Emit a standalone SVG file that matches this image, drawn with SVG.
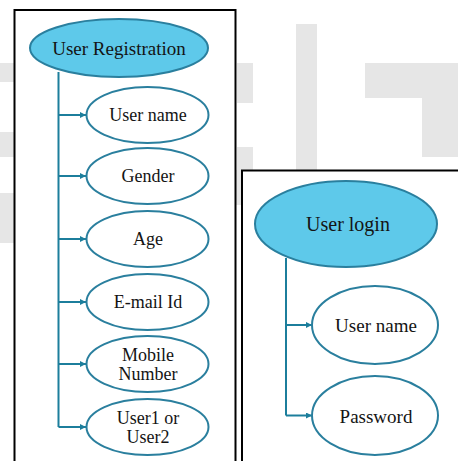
<svg xmlns="http://www.w3.org/2000/svg" width="458" height="461" viewBox="0 0 458 461">
  <defs>
    <style>
      .wm { fill: #e6e6e6; }
      .box { fill: #ffffff; stroke: #000000; stroke-width: 2; }
      .head { fill: #5ec9ea; stroke: #2a7f9e; stroke-width: 2; }
      .item { fill: #ffffff; stroke: #2a7f9e; stroke-width: 2; }
      .conn { fill: none; stroke: #1c7e9c; stroke-width: 2; }
      .lbl { font-family: 'Liberation Serif', 'DejaVu Serif', serif; fill: #141414; text-anchor: middle; }
      .t17 { font-size: 17px; }
      .t18 { font-size: 18px; }
      .t19 { font-size: 19px; }
      .t20 { font-size: 20px; }
    </style>
    <marker id="arr" viewBox="0 0 10 10" refX="10" refY="5" markerWidth="3" markerHeight="3" orient="auto" markerUnits="strokeWidth">
      <path d="M0,0 L10,5 L0,10 z" fill="#1c7e9c"/>
    </marker>
  </defs>

  <g id="watermark">
    <rect class="wm" x="0" y="63" width="14" height="19"/>
    <rect class="wm" x="0" y="132" width="14" height="25"/>
    <rect class="wm" x="0" y="193" width="14" height="50"/>
    <rect class="wm" x="237" y="63" width="16" height="40"/>
    <rect class="wm" x="237" y="147" width="16" height="23"/>
    <rect class="wm" x="236" y="170" width="5" height="35"/>
    <rect class="wm" x="296" y="24" width="21" height="146"/>
    <rect class="wm" x="365" y="63" width="93" height="35"/>
    <rect class="wm" x="422" y="63" width="36" height="94"/>
  </g>

  <g id="boxes">
    <rect class="box" x="14.5" y="10" width="221" height="470"/>
    <rect class="box" x="242" y="170.5" width="230" height="310"/>
  </g>

  <g id="connectors">
    <path class="conn" d="M58.5,72 V427"/>
    <path class="conn" d="M58.5,115 H86" marker-end="url(#arr)"/>
    <path class="conn" d="M58.5,176 H86" marker-end="url(#arr)"/>
    <path class="conn" d="M58.5,239 H86" marker-end="url(#arr)"/>
    <path class="conn" d="M58.5,302 H86" marker-end="url(#arr)"/>
    <path class="conn" d="M58.5,364 H86" marker-end="url(#arr)"/>
    <path class="conn" d="M58.5,427 H86" marker-end="url(#arr)"/>
    <path class="conn" d="M286,258 V415.5"/>
    <path class="conn" d="M286,325 H312" marker-end="url(#arr)"/>
    <path class="conn" d="M286,415.5 H312" marker-end="url(#arr)"/>
  </g>

  <g id="user-registration">
    <ellipse class="head" cx="119" cy="48" rx="89" ry="29"/>
    <text class="lbl t19" x="119" y="55">User Registration</text>
  </g>
  <g id="reg-username">
    <ellipse class="item" cx="147.5" cy="115" rx="61" ry="28"/>
    <text class="lbl t18" x="148" y="121">User name</text>
  </g>
  <g id="reg-gender">
    <ellipse class="item" cx="147.5" cy="176" rx="61" ry="28"/>
    <text class="lbl t18" x="148" y="182">Gender</text>
  </g>
  <g id="reg-age">
    <ellipse class="item" cx="147.5" cy="239" rx="61" ry="28"/>
    <text class="lbl t18" x="148" y="245">Age</text>
  </g>
  <g id="reg-email">
    <ellipse class="item" cx="147.5" cy="302" rx="61" ry="28"/>
    <text class="lbl t18" x="148" y="308">E-mail Id</text>
  </g>
  <g id="reg-mobile">
    <ellipse class="item" cx="147.5" cy="364" rx="61" ry="28"/>
    <text class="lbl t18" x="148" y="361">Mobile</text>
    <text class="lbl t18" x="148" y="380">Number</text>
  </g>
  <g id="reg-user1or2">
    <ellipse class="item" cx="147.5" cy="427" rx="61" ry="28"/>
    <text class="lbl t18" x="148" y="424">User1 or</text>
    <text class="lbl t18" x="148" y="443">User2</text>
  </g>

  <g id="user-login">
    <ellipse class="head" cx="346" cy="224" rx="91" ry="43"/>
    <text class="lbl t20" x="348" y="231">User login</text>
  </g>
  <g id="login-username">
    <ellipse class="item" cx="375" cy="325" rx="63" ry="39"/>
    <text class="lbl t19" x="376" y="332">User name</text>
  </g>
  <g id="login-password">
    <ellipse class="item" cx="375" cy="415.5" rx="63" ry="39.5"/>
    <text class="lbl t19" x="376" y="423">Password</text>
  </g>
</svg>
